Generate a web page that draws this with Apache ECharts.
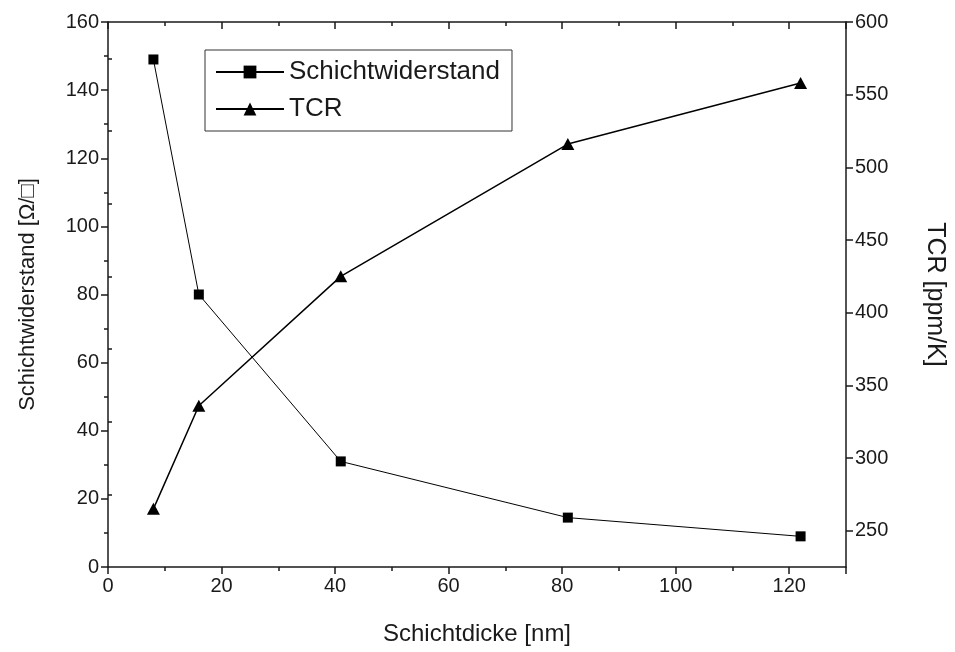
<!DOCTYPE html>
<html>
<head>
<meta charset="utf-8">
<script src="https://cdn.jsdelivr.net/npm/echarts@6/dist/echarts.min.js"></script>
<style>
  html, body { margin: 0; padding: 0; background: #fff; }
  #chart { width: 955px; height: 652px; }
</style>
</head>
<body>
<div id="chart"></div>
<script>
// Layer thickness [nm]
const thickness = [8, 16, 41, 81, 122];
// Sheet resistance [Ohm/sq]
const sheetResistance = [149, 80, 31, 14.5, 9];
// Temperature coefficient of resistance [ppm/K]
const tcr = [265, 336, 425, 516, 558];

// Right-axis labelled ticks and the short ticks between them
const tcrMajorTicks = [250, 300, 350, 400, 450, 500, 550, 600];
const tcrMinorTicks = [275, 325, 375, 425, 475, 525, 575];

const font = 'Arial, "Liberation Sans", sans-serif';
const ink = '#1a1a1a';

const pairs = (xs, ys) => xs.map((x, i) => [x, ys[i]]);

const baseLine = { show: true, onZero: false, lineStyle: { color: ink, width: 1.5 } };

const chart = echarts.init(document.getElementById('chart'), null, { renderer: 'canvas' });
chart.setOption({
  backgroundColor: '#fff',
  animation: false,
  grid: { left: 108, right: 98, top: 22, bottom: 85, containLabel: false },
  legend: {
    left: 205, top: 50,
    orient: 'vertical',
    padding: [9, 12, 9, 10],
    itemGap: 11,
    itemWidth: 68,
    itemHeight: 16,
    borderColor: '#333',
    borderWidth: 1,
    textStyle: { fontFamily: font, fontSize: 26, color: ink },
    data: ['Schichtwiderstand', 'TCR']
  },
  xAxis: [
    {
      type: 'value', position: 'bottom', min: 0, max: 130, interval: 20,
      name: 'Schichtdicke [nm]', nameLocation: 'middle', nameGap: 55,
      nameTextStyle: { fontFamily: font, fontSize: 24, color: ink },
      axisLine: baseLine,
      axisTick: { show: true, length: 7, lineStyle: { color: ink, width: 1.5 } },
      minorTick: { show: true, splitNumber: 2, length: 4, lineStyle: { color: ink, width: 1.5 } },
      axisLabel: { fontFamily: font, fontSize: 20, color: ink, margin: 9,
        formatter: v => (v > 120 ? '' : String(v)) },
      splitLine: { show: false }
    },
    {
      type: 'value', position: 'top', min: 0, max: 130, interval: 20,
      axisLine: baseLine,
      axisTick: { show: true, inside: true, length: 7, lineStyle: { color: ink, width: 1.5 } },
      minorTick: { show: true, splitNumber: 2, length: 4, lineStyle: { color: ink, width: 1.5 } },
      axisLabel: { show: false },
      splitLine: { show: false }
    }
  ],
  yAxis: [
    {
      type: 'value', position: 'left', min: 0, max: 160, interval: 20,
      name: 'Schichtwiderstand [\u03A9/\u25A1]', nameLocation: 'middle', nameGap: 69,
      nameTextStyle: { fontFamily: font, fontSize: 22, color: ink },
      axisLine: baseLine,
      axisTick: { show: true, length: 7, lineStyle: { color: ink, width: 1.5 } },
      minorTick: { show: true, splitNumber: 2, length: 4, lineStyle: { color: ink, width: 1.5 } },
      axisLabel: { fontFamily: font, fontSize: 20, color: ink, margin: 9 },
      splitLine: { show: false }
    },
    {
      type: 'value', position: 'right', min: 225, max: 600,
      name: 'TCR [ppm/K]', nameLocation: 'middle', nameGap: 76, nameRotate: -90,
      nameTextStyle: { fontFamily: font, fontSize: 25, color: ink },
      axisLine: baseLine,
      axisTick: { show: true, length: 7, customValues: tcrMajorTicks, lineStyle: { color: ink, width: 1.5 } },
      axisLabel: { fontFamily: font, fontSize: 20, color: ink, margin: 9, customValues: tcrMajorTicks },
      splitLine: { show: false }
    },
    {
      type: 'value', position: 'right', offset: 0, min: 225, max: 600,
      axisLine: { show: false },
      axisTick: { show: true, length: 4, customValues: tcrMinorTicks, lineStyle: { color: ink, width: 1.5 } },
      axisLabel: { show: false },
      splitLine: { show: false }
    }
  ],
  series: [
    {
      name: 'Schichtwiderstand', type: 'line',
      xAxisIndex: 0, yAxisIndex: 0,
      data: pairs(thickness, sheetResistance),
      symbol: 'rect', symbolSize: 10,
      itemStyle: { color: '#000' },
      lineStyle: { color: '#000', width: 1 }
    },
    {
      name: 'TCR', type: 'line',
      xAxisIndex: 0, yAxisIndex: 1,
      data: pairs(thickness, tcr),
      symbol: 'triangle', symbolSize: [13, 12],
      itemStyle: { color: '#000' },
      lineStyle: { color: '#000', width: 1.5 }
    }
  ]
});
</script>
</body>
</html>
